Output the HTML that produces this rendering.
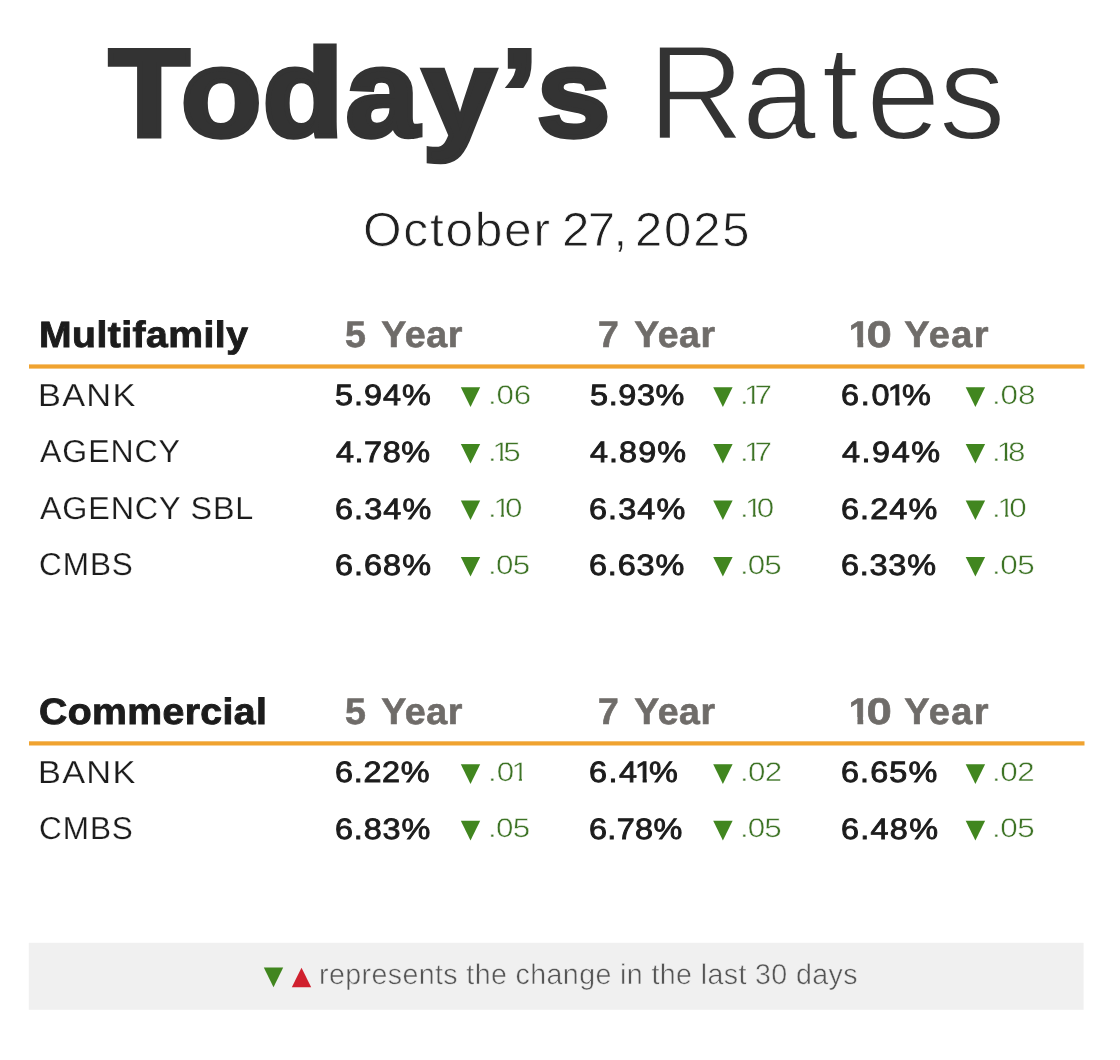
<!DOCTYPE html>
<html lang="en"><head><meta charset="utf-8"><title>Today’s Rates</title>
<style>
html,body{margin:0;padding:0;background:#ffffff;}
body{width:1120px;height:1060px;position:relative;overflow:hidden;font-family:"Liberation Sans", sans-serif;}
.t{position:absolute;text-rendering:geometricPrecision;white-space:nowrap;line-height:1;font-family:"Liberation Sans", sans-serif;transform-origin:0 0;}
svg{position:absolute;left:0;top:0;}
.g{margin:0;padding:0;}
.t i{font-style:normal;display:inline-block;letter-spacing:0;margin:0 -0.17em 0 -0.10em;clip-path:polygon(0 0,100% 0,100% 68%,64.5% 68%,64.5% 100%,42% 100%,42% 68%,0 68%);}
.d i{clip-path:polygon(0 0,100% 0,100% 68%,62.2% 68%,62.2% 100%,44.2% 100%,44.2% 68%,0 68%);}
.b i{margin:0 -0.13em 0 -0.03em;clip-path:polygon(0 0,100% 0,100% 65%,68% 65%,68% 100%,40.8% 100%,40.8% 65%,0 65%);}
.b u{text-decoration:none;display:inline-block;transform:scaleX(1.2);transform-origin:0 50%;margin-right:0.11em;}
</style></head><body>
<svg width="1120" height="1060" viewBox="0 0 1120 1060">
<rect x="29" y="364.4" width="1055.5" height="4.2" fill="#f0a330"/>
<rect x="29" y="741.3" width="1055.5" height="4.2" fill="#f0a330"/>
<rect x="28.8" y="942.8" width="1054.8" height="67" fill="#f0f0f0"/>
<polygon points="460.8,387.3 480.2,387.3 470.50,406.9" fill="#41861f"/>
<polygon points="713.2,387.3 732.6,387.3 722.90,406.9" fill="#41861f"/>
<polygon points="965.7,387.3 985.1,387.3 975.40,406.9" fill="#41861f"/>
<polygon points="460.8,443.9 480.2,443.9 470.50,463.5" fill="#41861f"/>
<polygon points="713.2,443.9 732.6,443.9 722.90,463.5" fill="#41861f"/>
<polygon points="965.7,443.9 985.1,443.9 975.40,463.5" fill="#41861f"/>
<polygon points="460.8,500.5 480.2,500.5 470.50,520.1" fill="#41861f"/>
<polygon points="713.2,500.5 732.6,500.5 722.90,520.1" fill="#41861f"/>
<polygon points="965.7,500.5 985.1,500.5 975.40,520.1" fill="#41861f"/>
<polygon points="460.8,557.0 480.2,557.0 470.50,576.6" fill="#41861f"/>
<polygon points="713.2,557.0 732.6,557.0 722.90,576.6" fill="#41861f"/>
<polygon points="965.7,557.0 985.1,557.0 975.40,576.6" fill="#41861f"/>
<polygon points="460.8,764.3 480.2,764.3 470.50,783.9" fill="#41861f"/>
<polygon points="713.2,764.3 732.6,764.3 722.90,783.9" fill="#41861f"/>
<polygon points="965.7,764.3 985.1,764.3 975.40,783.9" fill="#41861f"/>
<polygon points="460.8,820.8 480.2,820.8 470.50,840.4" fill="#41861f"/>
<polygon points="713.2,820.8 732.6,820.8 722.90,840.4" fill="#41861f"/>
<polygon points="965.7,820.8 985.1,820.8 975.40,840.4" fill="#41861f"/>
<polygon points="263.8,967.5 283.2,967.5 273.50,987.2" fill="#41861f"/>
<polygon points="291.8,987.2 311.2,987.2 301.50,967.8" fill="#d0202e"/>
</svg>
<div class="g title">
<span class="t" style="left:109.42px;top:31.70px;font-size:124.34px;letter-spacing:1.218px;color:#333333;font-weight:700;transform:scaleX(1.06);-webkit-text-stroke:5px #333333;">Tod<span style="margin-left:1px">a</span><span style="margin-left:2px">y</span><span style="margin-left:4px">’</span><span style="margin-left:-2px">s</span></span>
<span class="t" style="left:647.40px;top:25.95px;font-size:134.84px;letter-spacing:0.845px;color:#333333;-webkit-text-stroke:2.5px #ffffff;">R<span style="margin-left:-4px">a</span><span style="margin-left:4px">t</span><span style="margin-left:6px">e</span><span style="margin-left:-3px">s</span></span>
</div>
<div class="g date">
<span class="t" style="left:363.02px;top:207.00px;font-size:47.81px;letter-spacing:1.679px;color:#202020;transform:scaleX(1.038);-webkit-text-stroke:0.8px #ffffff;">October</span>
<span class="t" style="left:561.54px;top:207.00px;font-size:47.81px;letter-spacing:-1.603px;color:#202020;transform:scaleX(1.03);-webkit-text-stroke:0.8px #ffffff;">27,</span>
<span class="t" style="left:634.55px;top:207.00px;font-size:47.81px;letter-spacing:1.796px;color:#202020;transform:scaleX(1.026);-webkit-text-stroke:0.8px #ffffff;">2025</span>
</div>
<div class="g head">
<span class="t" style="left:39.16px;top:316.95px;font-size:36.59px;letter-spacing:0.439px;color:#1c1c1c;font-weight:700;transform:scaleX(1.069);-webkit-text-stroke:0.9px #1c1c1c;">Multifamily</span>
<span class="t" style="left:344.80px;top:316.10px;font-size:37.03px;letter-spacing:0.507px;color:#6f6c69;font-weight:700;transform:scaleX(1.017);word-spacing:4.5px;-webkit-text-stroke:0.6px #6f6c69;">5 Year</span>
<span class="t" style="left:598.42px;top:316.10px;font-size:37.03px;letter-spacing:0.557px;color:#6f6c69;font-weight:700;transform:scaleX(1.011);word-spacing:4.5px;-webkit-text-stroke:0.6px #6f6c69;">7 Year</span>
<span class="t b" style="left:849.84px;top:316.10px;font-size:37.03px;letter-spacing:1.325px;color:#6f6c69;font-weight:700;transform:scaleX(1.025);-webkit-text-stroke:0.6px #6f6c69;"><i style="margin-right:calc(-.13em + 1.33px)">1</i><u>0</u> Year</span>
</div>
<div class="g row">
<span class="t" style="left:37.73px;top:379.60px;font-size:31.63px;letter-spacing:1.158px;color:#1c1c1c;transform:scaleX(1.086);-webkit-text-stroke:0.2px #ffffff;">BANK</span>
<span class="t" style="left:335.24px;top:381.45px;font-size:29.45px;letter-spacing:0.907px;color:#1c1c1c;transform:scaleX(1.1);-webkit-text-stroke:0.9px #1c1c1c;">5.94%</span>
<span class="t d" style="left:487.55px;top:381.95px;font-size:26.82px;letter-spacing:-0.148px;color:#3d7325;transform:scaleX(1.17);-webkit-text-stroke:0.5px #ffffff;">.06</span>
<span class="t" style="left:589.74px;top:381.45px;font-size:29.45px;letter-spacing:0.572px;color:#1c1c1c;transform:scaleX(1.1);-webkit-text-stroke:0.9px #1c1c1c;">5.93%</span>
<span class="t d" style="left:740.06px;top:381.95px;font-size:26.82px;letter-spacing:-1.369px;color:#3d7325;transform:scaleX(1.17);-webkit-text-stroke:0.5px #ffffff;">.<i style="margin-right:calc(-.17em + -1.37px)">1</i>7</span>
<span class="t" style="left:841.27px;top:381.45px;font-size:29.45px;letter-spacing:1.537px;color:#1c1c1c;transform:scaleX(1.1);-webkit-text-stroke:0.9px #1c1c1c;">6.0<i style="margin-right:calc(-.17em + 1.54px)">1</i>%</span>
<span class="t d" style="left:991.55px;top:381.95px;font-size:26.82px;letter-spacing:-0.086px;color:#3d7325;transform:scaleX(1.17);-webkit-text-stroke:0.5px #ffffff;">.08</span>
</div>
<div class="g row">
<span class="t" style="left:39.94px;top:436.20px;font-size:31.63px;letter-spacing:0.921px;color:#1c1c1c;transform:scaleX(1.013);-webkit-text-stroke:0.2px #ffffff;">AGENCY</span>
<span class="t" style="left:335.66px;top:438.05px;font-size:29.45px;letter-spacing:0.499px;color:#1c1c1c;transform:scaleX(1.1);-webkit-text-stroke:0.9px #1c1c1c;">4.78%</span>
<span class="t d" style="left:487.55px;top:438.55px;font-size:26.82px;letter-spacing:-1.085px;color:#3d7325;transform:scaleX(1.17);-webkit-text-stroke:0.5px #ffffff;">.<i style="margin-right:calc(-.17em + -1.08px)">1</i>5</span>
<span class="t" style="left:590.16px;top:438.05px;font-size:29.45px;letter-spacing:0.953px;color:#1c1c1c;transform:scaleX(1.1);-webkit-text-stroke:0.9px #1c1c1c;">4.89%</span>
<span class="t d" style="left:740.06px;top:438.55px;font-size:26.82px;letter-spacing:-1.369px;color:#3d7325;transform:scaleX(1.17);-webkit-text-stroke:0.5px #ffffff;">.<i style="margin-right:calc(-.17em + -1.37px)">1</i>7</span>
<span class="t" style="left:842.16px;top:438.05px;font-size:29.45px;letter-spacing:1.408px;color:#1c1c1c;transform:scaleX(1.1);-webkit-text-stroke:0.9px #1c1c1c;">4.94%</span>
<span class="t d" style="left:991.55px;top:438.55px;font-size:26.82px;letter-spacing:-0.752px;color:#3d7325;transform:scaleX(1.17);-webkit-text-stroke:0.5px #ffffff;">.<i style="margin-right:calc(-.17em + -0.75px)">1</i>8</span>
</div>
<div class="g row">
<span class="t" style="left:39.91px;top:492.80px;font-size:31.63px;letter-spacing:0.818px;color:#1c1c1c;transform:scaleX(1.021);-webkit-text-stroke:0.2px #ffffff;">AGENCY SBL</span>
<span class="t" style="left:334.77px;top:494.65px;font-size:29.45px;letter-spacing:1.012px;color:#1c1c1c;transform:scaleX(1.1);-webkit-text-stroke:0.9px #1c1c1c;">6.34%</span>
<span class="t d" style="left:487.55px;top:495.15px;font-size:26.82px;letter-spacing:-0.360px;color:#3d7325;transform:scaleX(1.17);-webkit-text-stroke:0.5px #ffffff;">.<i style="margin-right:calc(-.17em + -0.36px)">1</i>0</span>
<span class="t" style="left:589.27px;top:494.65px;font-size:29.45px;letter-spacing:1.012px;color:#1c1c1c;transform:scaleX(1.1);-webkit-text-stroke:0.9px #1c1c1c;">6.34%</span>
<span class="t d" style="left:739.55px;top:495.15px;font-size:26.82px;letter-spacing:-0.444px;color:#3d7325;transform:scaleX(1.17);-webkit-text-stroke:0.5px #ffffff;">.<i style="margin-right:calc(-.17em + -0.44px)">1</i>0</span>
<span class="t" style="left:841.27px;top:494.65px;font-size:29.45px;letter-spacing:1.012px;color:#1c1c1c;transform:scaleX(1.1);-webkit-text-stroke:0.9px #1c1c1c;">6.24%</span>
<span class="t d" style="left:991.55px;top:495.15px;font-size:26.82px;letter-spacing:-0.189px;color:#3d7325;transform:scaleX(1.17);-webkit-text-stroke:0.5px #ffffff;">.<i style="margin-right:calc(-.17em + -0.19px)">1</i>0</span>
</div>
<div class="g row">
<span class="t" style="left:39.10px;top:549.30px;font-size:31.63px;letter-spacing:0.950px;color:#1c1c1c;transform:scaleX(0.996);-webkit-text-stroke:0.2px #ffffff;">CMBS</span>
<span class="t" style="left:334.77px;top:551.15px;font-size:29.45px;letter-spacing:0.933px;color:#1c1c1c;transform:scaleX(1.1);-webkit-text-stroke:0.9px #1c1c1c;">6.68%</span>
<span class="t d" style="left:487.55px;top:551.65px;font-size:26.82px;letter-spacing:-0.625px;color:#3d7325;transform:scaleX(1.17);-webkit-text-stroke:0.5px #ffffff;">.05</span>
<span class="t" style="left:589.27px;top:551.15px;font-size:29.45px;letter-spacing:0.785px;color:#1c1c1c;transform:scaleX(1.1);-webkit-text-stroke:0.9px #1c1c1c;">6.63%</span>
<span class="t d" style="left:739.55px;top:551.65px;font-size:26.82px;letter-spacing:-0.787px;color:#3d7325;transform:scaleX(1.17);-webkit-text-stroke:0.5px #ffffff;">.05</span>
<span class="t" style="left:841.27px;top:551.15px;font-size:29.45px;letter-spacing:0.706px;color:#1c1c1c;transform:scaleX(1.1);-webkit-text-stroke:0.9px #1c1c1c;">6.33%</span>
<span class="t d" style="left:991.55px;top:551.65px;font-size:26.82px;letter-spacing:-0.360px;color:#3d7325;transform:scaleX(1.17);-webkit-text-stroke:0.5px #ffffff;">.05</span>
</div>
<div class="g head">
<span class="t" style="left:39.42px;top:693.75px;font-size:36.59px;letter-spacing:0.369px;color:#1c1c1c;font-weight:700;transform:scaleX(1.071);-webkit-text-stroke:0.9px #1c1c1c;">Commercial</span>
<span class="t" style="left:344.80px;top:692.90px;font-size:37.03px;letter-spacing:0.507px;color:#6f6c69;font-weight:700;transform:scaleX(1.017);word-spacing:4.5px;-webkit-text-stroke:0.6px #6f6c69;">5 Year</span>
<span class="t" style="left:598.42px;top:692.90px;font-size:37.03px;letter-spacing:0.557px;color:#6f6c69;font-weight:700;transform:scaleX(1.011);word-spacing:4.5px;-webkit-text-stroke:0.6px #6f6c69;">7 Year</span>
<span class="t b" style="left:849.84px;top:692.90px;font-size:37.03px;letter-spacing:1.325px;color:#6f6c69;font-weight:700;transform:scaleX(1.025);-webkit-text-stroke:0.6px #6f6c69;"><i style="margin-right:calc(-.13em + 1.33px)">1</i><u>0</u> Year</span>
</div>
<div class="g row">
<span class="t" style="left:37.73px;top:756.60px;font-size:31.63px;letter-spacing:1.158px;color:#1c1c1c;transform:scaleX(1.086);-webkit-text-stroke:0.2px #ffffff;">BANK</span>
<span class="t" style="left:334.77px;top:758.45px;font-size:29.45px;letter-spacing:0.639px;color:#1c1c1c;transform:scaleX(1.1);-webkit-text-stroke:0.9px #1c1c1c;">6.22%</span>
<span class="t d" style="left:487.55px;top:758.95px;font-size:26.82px;letter-spacing:0.043px;color:#3d7325;transform:scaleX(1.17);-webkit-text-stroke:0.5px #ffffff;">.0<i style="margin-right:calc(-.17em + 0.04px)">1</i></span>
<span class="t" style="left:589.27px;top:758.45px;font-size:29.45px;letter-spacing:1.310px;color:#1c1c1c;transform:scaleX(1.1);-webkit-text-stroke:0.9px #1c1c1c;">6.4<i style="margin-right:calc(-.17em + 1.31px)">1</i>%</span>
<span class="t d" style="left:739.55px;top:758.95px;font-size:26.82px;letter-spacing:-0.642px;color:#3d7325;transform:scaleX(1.17);-webkit-text-stroke:0.5px #ffffff;">.02</span>
<span class="t" style="left:841.27px;top:758.45px;font-size:29.45px;letter-spacing:0.998px;color:#1c1c1c;transform:scaleX(1.1);-webkit-text-stroke:0.9px #1c1c1c;">6.65%</span>
<span class="t d" style="left:991.55px;top:758.95px;font-size:26.82px;letter-spacing:-0.378px;color:#3d7325;transform:scaleX(1.17);-webkit-text-stroke:0.5px #ffffff;">.02</span>
</div>
<div class="g row">
<span class="t" style="left:39.10px;top:813.10px;font-size:31.63px;letter-spacing:0.950px;color:#1c1c1c;transform:scaleX(0.996);-webkit-text-stroke:0.2px #ffffff;">CMBS</span>
<span class="t" style="left:334.77px;top:814.95px;font-size:29.45px;letter-spacing:0.770px;color:#1c1c1c;transform:scaleX(1.1);-webkit-text-stroke:0.9px #1c1c1c;">6.83%</span>
<span class="t d" style="left:487.55px;top:815.45px;font-size:26.82px;letter-spacing:-0.625px;color:#3d7325;transform:scaleX(1.17);-webkit-text-stroke:0.5px #ffffff;">.05</span>
<span class="t" style="left:589.27px;top:814.95px;font-size:29.45px;letter-spacing:0.331px;color:#1c1c1c;transform:scaleX(1.1);-webkit-text-stroke:0.9px #1c1c1c;">6.78%</span>
<span class="t d" style="left:739.55px;top:815.45px;font-size:26.82px;letter-spacing:-0.787px;color:#3d7325;transform:scaleX(1.17);-webkit-text-stroke:0.5px #ffffff;">.05</span>
<span class="t" style="left:841.27px;top:814.95px;font-size:29.45px;letter-spacing:1.160px;color:#1c1c1c;transform:scaleX(1.1);-webkit-text-stroke:0.9px #1c1c1c;">6.48%</span>
<span class="t d" style="left:991.55px;top:815.45px;font-size:26.82px;letter-spacing:-0.360px;color:#3d7325;transform:scaleX(1.17);-webkit-text-stroke:0.5px #ffffff;">.05</span>
</div>
<div class="g note">
<span class="t" style="left:318.77px;top:960.95px;font-size:28.63px;letter-spacing:0.389px;color:#555555;transform:scaleX(0.999);-webkit-text-stroke:0.5px #f0f0f0;">represents the change in the last 30 days</span>
</div>
</body></html>
